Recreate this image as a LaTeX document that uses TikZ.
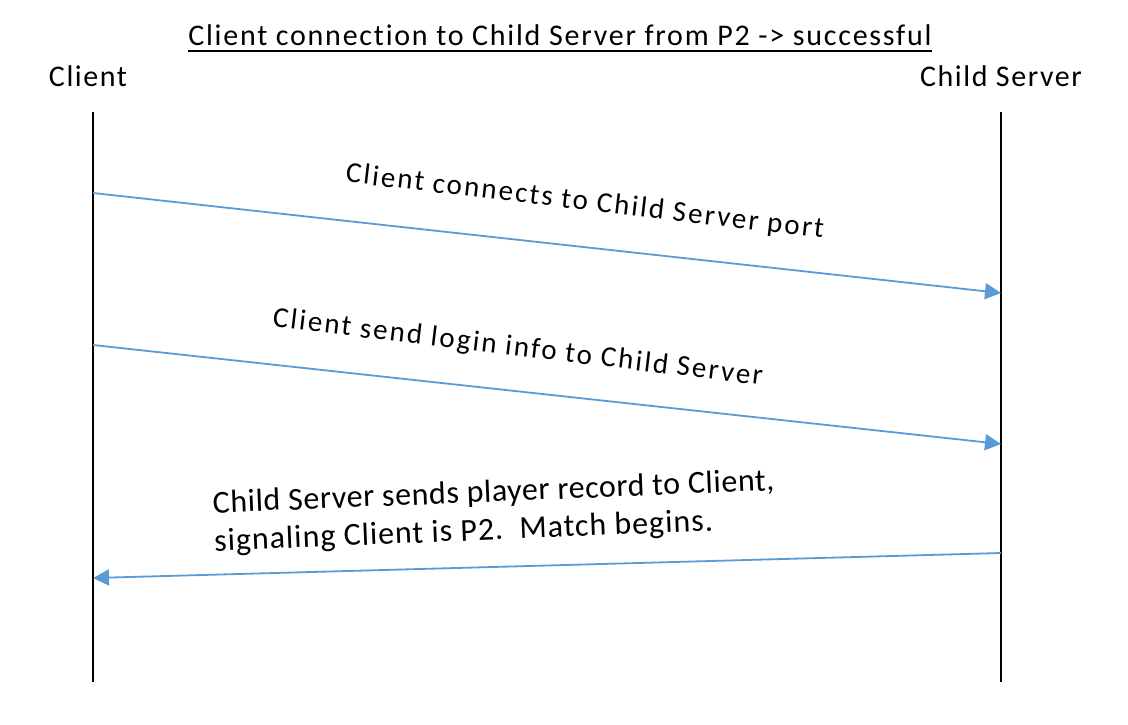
\documentclass[tikz,border=0pt]{standalone}
\usepackage{fontspec}
\setmainfont{Carlito}[Ligatures=NoCommon]
\usetikzlibrary{arrows.meta,calc}
\definecolor{arrowblue}{HTML}{5B9BD5}
\begin{document}
\begin{tikzpicture}[x=1pt,y=-1pt,
  lifeline/.style={line width=2pt,black},
  msg/.style={line width=1.8pt,arrowblue,-{Triangle[length=16pt,width=16pt]}},
  hdr/.style={font=\fontsize{30}{36}\selectfont\addfontfeature{LetterSpace=5.2},inner sep=0pt},
  lbl/.style={font=\fontsize{29}{35}\selectfont\addfontfeature{LetterSpace=7.5},inner sep=0pt},
  lblb/.style={font=\fontsize{32}{38}\selectfont\addfontfeature{LetterSpace=1.8},inner sep=0pt,align=left}]
\useasboundingbox[fill=white] (0,0) rectangle (1128,724);
\node[hdr,anchor=base,font=\fontsize{30}{36}\selectfont\addfontfeature{LetterSpace=5.9}] (title) at (560,45) {Client connection to Child Server from P2 -> successful};
\draw[line width=2pt] ($(title.base west)+(0,5.5)$) -- ($(title.base east)+(0,5.5)$);
\node[hdr,anchor=base] (client) at (88,86) {Client};
\node[hdr,anchor=base] (server) at (1001,86) {Child Server};
\coordinate (ctop) at (93,112);
\coordinate (cbot) at (93,682);
\coordinate (stop) at (1001,112);
\coordinate (sbot) at (1001,682);
\draw[lifeline] (ctop) -- (cbot);
\draw[lifeline] (stop) -- (sbot);
\coordinate (c1) at (93,193);
\coordinate (s1) at (1001,293);
\coordinate (c2) at (93,345);
\coordinate (s2) at (1001,444);
\coordinate (s3) at (1001,553);
\coordinate (c3) at (93,578);
\draw[msg] (c1) -- (s1);
\draw[msg] (c2) -- (s2);
\draw[msg] (s3) -- (c3);
\node[lbl,anchor=base,rotate=-6.7] (l1) at (584,210) {Client connects to Child Server port};
\node[lbl,anchor=base,rotate=-6.8] (l2) at (517,356) {Client send login info to Child Server};
\node[lblb,anchor=base west,rotate=2.3] (l3) at (214.5,551) {Child Server sends player record to Client,\\{\addfontfeature{LetterSpace=3}signaling Client is P2.\ \ Match begins.}};
\end{tikzpicture}
\end{document}
